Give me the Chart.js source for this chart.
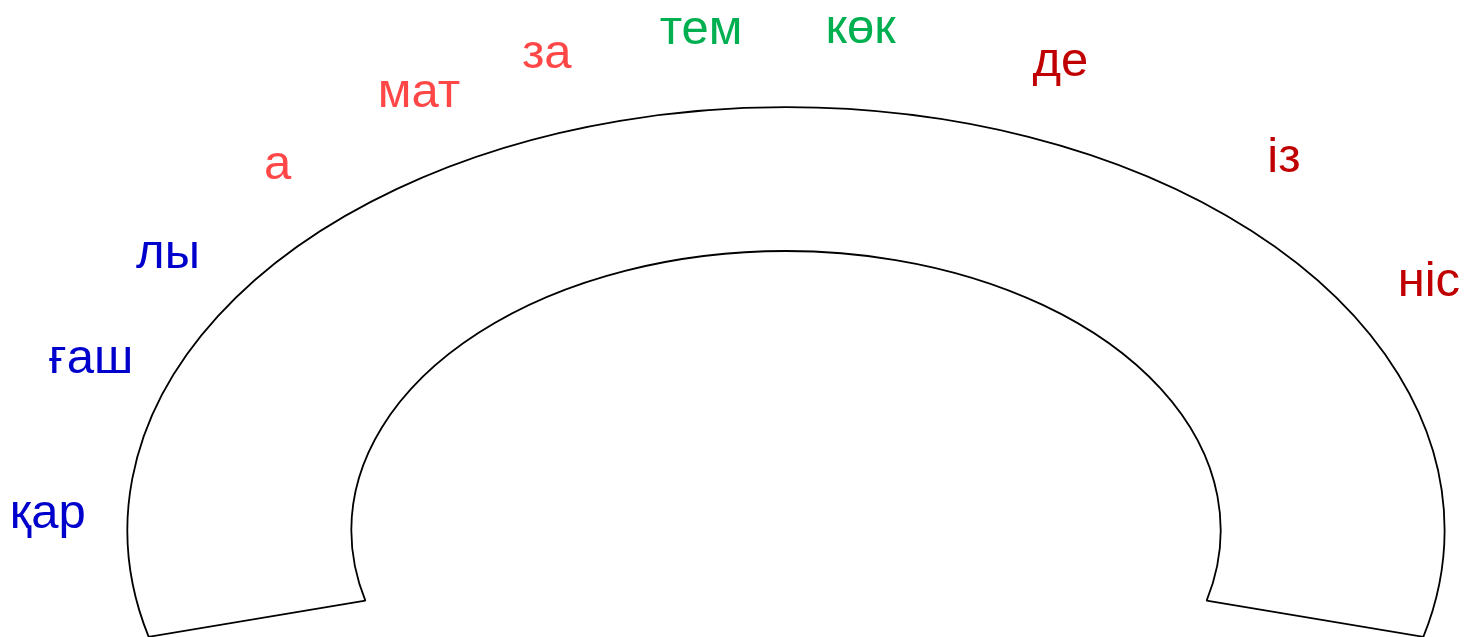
<!DOCTYPE html>
<html>
<head>
<meta charset="utf-8">
<script src="https://cdn.jsdelivr.net/npm/chart.js@4.4.1/dist/chart.umd.min.js"></script>
<style>
  html, body { margin: 0; padding: 0; background: #fff; }
  #wrap { width: 1466px; height: 637px; }
</style>
</head>
<body>
<div id="wrap"><canvas id="chart"></canvas></div>
<script>
// syllables around the ring, their angle (degrees, 0 = right, 90 = top) and word group
const syllables = ['қар', 'ғаш', 'лы', 'а', 'мат', 'за', 'тем', 'көк', 'де', 'із', 'ніс'];
const syllableAngles = [178.3, 160.2, 146.8, 133.5, 119.8, 108.9, 96.6, 84.2, 68.2, 47.6, 29.5];
const syllableWord = [0, 0, 0, 1, 1, 1, 2, 2, 3, 3, 3];
const wordColors = ['#0000cc', '#ff4747', '#00b050', '#c00000'];
const ringValues = [1];

const stretchX = 1.557; // ring is drawn as an ellipse
const labelGap = 80;
const fontSize = 49;

const ellipsePlugin = {
  id: 'ellipse',
  beforeDatasetsDraw(chart) {
    const ctx = chart.ctx;
    const arc = chart.getDatasetMeta(0).data[0];
    const dpr = chart.currentDevicePixelRatio;
    ctx.save();
    ctx.translate(arc.x, 0);
    ctx.scale(stretchX, 1);
    ctx.translate(-arc.x, 0);
    // keep the outline width even: stroke the stretched path without the stretch
    const stroke = CanvasRenderingContext2D.prototype.stroke;
    ctx.stroke = function () {
      this.save();
      this.setTransform(dpr, 0, 0, dpr, 0, 0);
      stroke.apply(this, arguments);
      this.restore();
    };
  },
  afterDatasetsDraw(chart) {
    delete chart.ctx.stroke;
    chart.ctx.restore();
  },
  afterDraw(chart) {
    const ctx = chart.ctx;
    const arc = chart.getDatasetMeta(0).data[0];
    const rx = arc.outerRadius * stretchX + labelGap;
    const ry = arc.outerRadius + labelGap;
    ctx.save();
    ctx.font = fontSize + 'px "Liberation Sans", Arial, sans-serif';
    ctx.textAlign = 'center';
    ctx.textBaseline = 'alphabetic';
    syllables.forEach((s, i) => {
      const a = syllableAngles[i] * Math.PI / 180;
      ctx.fillStyle = wordColors[syllableWord[i]];
      ctx.fillText(s, arc.x + rx * Math.cos(a), arc.y - ry * Math.sin(a) + fontSize * 0.27);
    });
    ctx.restore();
  }
};

new Chart('chart', {
  type: 'doughnut',
  data: {
    labels: ['ring'],
    datasets: [{
      data: ringValues,
      backgroundColor: '#ffffff',
      borderColor: '#000000',
      borderWidth: 1.8,
      clip: false
    }]
  },
  options: {
    responsive: true,
    maintainAspectRatio: false,
    animation: false,
    rotation: -104.6,
    circumference: 209.2,
    cutout: '66%',
    radius: 423,
    layout: { padding: { top: 107, bottom: 0, left: 106, right: 0 } },
    plugins: {
      legend: { display: false },
      tooltip: { enabled: false }
    }
  },
  plugins: [ellipsePlugin]
});
</script>
</body>
</html>
